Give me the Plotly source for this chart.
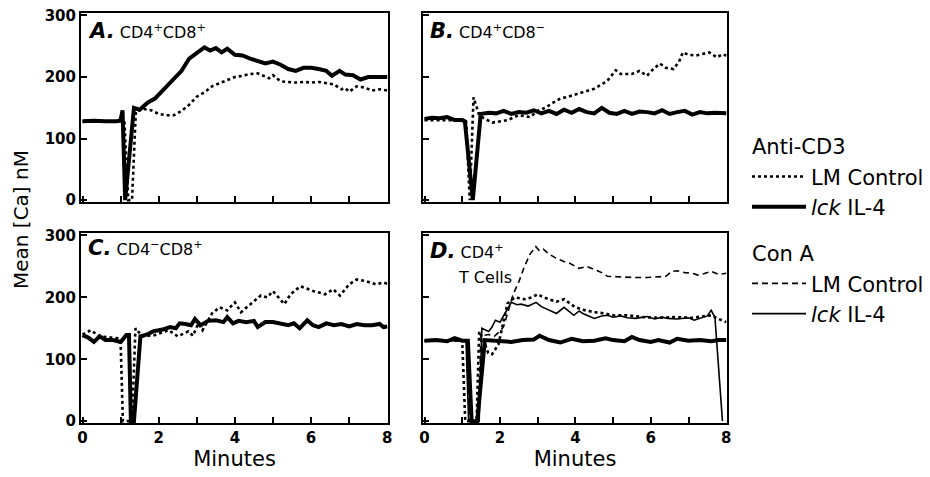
import plotly.graph_objects as go

# ---------------- data (minutes, mean [Ca] nM) ----------------
# Panel A  CD4+CD8+
a_il4_t = [0, 0.3, 0.6, 0.9, 1.0, 1.05, 1.12, 1.35, 1.5, 1.7, 1.9, 2.1, 2.4, 2.6, 2.8, 3.0, 3.2, 3.35, 3.5, 3.65,
           3.8, 4.0, 4.2, 4.4, 4.6, 4.8, 5.0, 5.2, 5.4, 5.6, 5.8, 6.0, 6.2, 6.4, 6.55, 6.75, 6.9, 7.1, 7.3, 7.5, 7.7, 8.0]
a_il4_v = [128, 129, 128, 128, 130, 146, 0, 150, 147, 158, 165, 178, 198, 210, 230, 240, 248, 243, 247, 240,
           246, 236, 235, 230, 226, 222, 225, 220, 213, 210, 215, 215, 213, 210, 202, 210, 204, 203, 196, 200, 200, 200]
a_lm_t = [0, 0.5, 1.0, 1.1, 1.2, 1.3, 1.4, 1.6, 1.8, 2.0, 2.2, 2.4, 2.6, 2.8, 3.0, 3.2, 3.4, 3.6, 3.8, 4.0, 4.2,
          4.4, 4.6, 4.8, 4.9, 5.0, 5.2, 5.4, 5.6, 5.8, 6.0, 6.2, 6.4, 6.6, 6.8, 6.9, 7.0, 7.2, 7.4, 7.6, 7.8, 8.0]
a_lm_v = [128, 128, 128, 128, 0, 0, 145, 148, 146, 140, 138, 138, 145, 155, 168, 175, 185, 190, 195, 200, 202,
          205, 206, 200, 198, 203, 193, 192, 191, 192, 191, 192, 190, 188, 180, 182, 176, 185, 183, 178, 180, 178]

# Panel B  CD4+CD8-
b_il4_t = [0, 0.2, 0.4, 0.6, 0.8, 1.0, 1.07, 1.28, 1.49, 1.7, 1.9, 2.1, 2.3, 2.5, 2.7, 2.9, 3.1, 3.3, 3.5, 3.7,
           3.9, 4.1, 4.3, 4.5, 4.7, 4.9, 5.1, 5.3, 5.5, 5.7, 5.9, 6.1, 6.3, 6.5, 6.7, 6.9, 7.1, 7.3, 7.5, 7.7, 8.0]
b_il4_v = [132, 134, 133, 135, 130, 130, 128, 0, 140, 142, 141, 145, 140, 143, 142, 146, 141, 145, 140, 147,
           142, 148, 143, 141, 150, 142, 140, 145, 140, 144, 143, 141, 146, 140, 143, 145, 139, 143, 141, 142, 141]
b_lm_t = [0, 1.1, 1.2, 1.3, 1.45, 1.6, 1.8, 2.0, 2.2, 2.5, 2.8, 3.0, 3.2, 3.4, 3.6, 3.8, 4.0, 4.2, 4.5, 4.7,
          4.85, 5.07, 5.2, 5.5, 5.7, 5.9, 6.05, 6.24, 6.4, 6.6, 6.75, 6.85, 7.0, 7.2, 7.4, 7.55, 7.75, 7.9, 8.0]
b_lm_v = [130, 130, 0, 167, 138, 132, 126, 128, 130, 138, 135, 145, 150, 158, 165, 168, 172, 175, 181, 188,
          194, 211, 205, 205, 210, 202, 212, 222, 215, 213, 225, 240, 236, 235, 238, 240, 232, 237, 235]

# Panel C  CD4-CD8+
c_il4_t = [0, 0.15, 0.3, 0.45, 0.6, 0.8, 1.0, 1.15, 1.22, 1.27, 1.35, 1.52, 1.7, 1.85, 2.1, 2.3, 2.45, 2.55, 2.7,
           2.85, 2.95, 3.1, 3.3, 3.5, 3.7, 3.8, 3.95, 4.1, 4.3, 4.5, 4.6, 4.8, 5.0, 5.2, 5.4, 5.55, 5.7, 5.9, 6.05,
           6.2, 6.4, 6.6, 6.8, 7.0, 7.2, 7.4, 7.6, 7.8, 7.9, 8.0]
c_il4_v = [139, 135, 128, 137, 131, 131, 128, 139, 139, 0, 0, 137, 140, 145, 148, 152, 150, 158, 157,
           155, 165, 155, 162, 163, 160, 168, 158, 162, 160, 162, 152, 160, 160, 158, 155, 158, 150, 163, 155,
           152, 158, 155, 157, 153, 157, 155, 155, 157, 152, 153]
c_lm_t = [0, 0.22, 0.44, 0.7, 0.92, 1.0, 1.06, 1.3, 1.39, 1.57, 1.9, 2.26, 2.5, 2.78, 2.9, 3.04, 3.15, 3.4, 3.6,
          3.8, 4.0, 4.16, 4.42, 4.68, 4.85, 5.0, 5.3, 5.46, 5.72, 6.07, 6.37, 6.58, 6.76, 7.0, 7.2, 7.45, 7.7, 7.9, 8.0]
c_lm_v = [140, 147, 137, 136, 134, 128, 0, 0, 150, 137, 139, 147, 137, 145, 138, 158, 147, 174, 184,
          179, 192, 176, 189, 203, 200, 210, 189, 205, 218, 210, 205, 213, 203, 221, 229, 226, 221, 224, 222]

# Panel D  CD4+ T cells
d_il4_t = [0, 0.3, 0.6, 0.8, 1.0, 1.15, 1.25, 1.4, 1.6, 1.8, 2.0, 2.3, 2.6, 2.9, 3.05, 3.3, 3.6, 3.9, 4.2, 4.5,
           4.8, 5.0, 5.3, 5.5, 5.7, 6.0, 6.2, 6.5, 6.7, 7.0, 7.3, 7.6, 7.8, 8.0]
d_il4_v = [130, 131, 129, 134, 130, 130, 0, 0, 131, 130, 130, 128, 131, 132, 138, 131, 127, 133, 129, 130,
           134, 131, 129, 136, 131, 128, 131, 127, 133, 130, 131, 129, 131, 131]
d_lm_t = [0, 1.0, 1.08, 1.38, 1.45, 1.6, 1.69, 1.79, 1.96, 2.1, 2.2, 2.4, 2.65, 2.85, 3.0, 3.15, 3.3, 3.5, 3.7,
          3.85, 4.0, 4.2, 4.5, 4.8, 5.0, 5.4, 5.8, 6.2, 6.6, 7.1, 7.4, 7.6, 7.8, 8.0]
d_lm_v = [130, 130, 0, 0, 145, 125, 110, 108, 124, 165, 190, 200, 197, 200, 205, 200, 197, 193, 197,
          190, 184, 180, 176, 174, 171, 171, 168, 167, 168, 167, 169, 171, 165, 160]
d_cona_lm_t = [0, 1.12, 1.2, 1.42, 1.5, 1.7, 1.85, 2.0, 2.1, 2.2, 2.35, 2.5, 2.65, 2.8, 2.95, 3.05, 3.15, 3.3, 3.5,
               3.7, 3.85, 4.0, 4.1, 4.3, 4.5, 4.7, 4.85, 5.1, 5.35, 5.6, 5.9, 6.2, 6.4, 6.55, 6.7, 6.9, 7.1, 7.25,
               7.4, 7.6, 7.8, 8.0]
d_cona_lm_v = [130, 130, 0, 0, 138, 140, 137, 145, 153, 175, 205, 225, 250, 270, 282, 275, 278, 270, 263,
               258, 255, 250, 247, 250, 245, 240, 234, 233, 232, 232, 232, 233, 234, 242, 243, 240, 239, 236,
               238, 242, 237, 239]
d_cona_il4_t = [0, 1.1, 1.17, 1.45, 1.52, 1.7, 1.79, 1.88, 2.0, 2.15, 2.3, 2.45, 2.56, 2.75, 2.96, 3.1, 3.22, 3.35,
                3.5, 3.7, 3.85, 3.96, 4.1, 4.2, 4.35, 4.5, 4.7, 4.85, 5.0, 5.2, 5.38, 5.6, 5.9, 6.1, 6.3, 6.45,
                6.7, 7.0, 7.15, 7.3, 7.5, 7.6, 7.7, 7.9]
d_cona_il4_v = [130, 130, 0, 0, 150, 145, 152, 163, 160, 176, 192, 188, 189, 186, 192, 185, 182, 178,
                174, 184, 176, 171, 178, 174, 170, 166, 170, 171, 168, 170, 167, 166, 169, 165, 168, 166,
                165, 167, 163, 166, 170, 179, 168, 0]

x_tick_vals = [0, 1, 2, 3, 4, 5, 6, 7, 8]
x_tick_text = ["0", "", "2", "", "4", "", "6", "", "8"]
y_tick_vals = [0, 100, 200, 300]
y_tick_text = ["0", "100", "200", "300"]

panel_labels = [
    ("A.", "CD4<sup>+</sup>CD8<sup>+</sup>"),
    ("B.", "CD4<sup>+</sup>CD8<sup>−</sup>"),
    ("C.", "CD4<sup>−</sup>CD8<sup>+</sup>"),
    ("D.", "CD4<sup>+</sup>"),
]

# ---------------- figure ----------------
# the page body keeps an 8px margin, so the figure is drawn 8px in from the window corner
OFF = 8
W, H = 930 - OFF, 477 - OFF
FONT = "DejaVu Sans"


def fx(px):
    return (px - OFF) / W


def fy(py):
    return 1 - (py - OFF) / H


fig = go.Figure()

dom_x = {1: [fx(81), fx(388)], 2: [fx(423), fx(727)], 3: [fx(81), fx(388)], 4: [fx(423), fx(727)]}
dom_y = {1: [fy(202), fy(13)], 2: [fy(202), fy(13)], 3: [fy(423), fy(233)], 4: [fy(423), fy(233)]}

thick = dict(color="black", width=4)
dotted = dict(color="black", width=2.6, dash="dot")
thin = dict(color="black", width=1.6)
dashed = dict(color="black", width=1.6, dash="6px,4px")


def add(t, v, line, k, name=None, group=None, title=None, show=False):
    ax = "" if k == 1 else str(k)
    fig.add_trace(go.Scatter(
        x=t, y=v, mode="lines", line=line, xaxis="x" + ax, yaxis="y" + ax,
        name=name, showlegend=show, legendgroup=group,
        legendgrouptitle_text=title, hoverinfo="skip"))


add(a_lm_t, a_lm_v, dotted, 1, "LM Control", "anti", "Anti-CD3", True)
add(a_il4_t, a_il4_v, thick, 1, "<i>lck</i> IL-4", "anti", "Anti-CD3", True)
add(b_lm_t, b_lm_v, dotted, 2)
add(b_il4_t, b_il4_v, thick, 2)
add(c_lm_t, c_lm_v, dotted, 3)
add(c_il4_t, c_il4_v, thick, 3)
add(d_cona_lm_t, d_cona_lm_v, dashed, 4, "LM Control", "cona", "Con A", True)
add(d_cona_il4_t, d_cona_il4_v, thin, 4, "<i>lck</i> IL-4", "cona", "Con A", True)
add(d_lm_t, d_lm_v, dotted, 4)
add(d_il4_t, d_il4_v, thick, 4)

layout = {}
for k in range(1, 5):
    ax = "" if k == 1 else str(k)
    bottom = k in (3, 4)
    left = k in (1, 3)
    layout["xaxis" + ax] = dict(
        domain=dom_x[k], anchor="y" + ax, range=[-0.04, 8.02], automargin=False,
        showline=True, mirror=True, linecolor="black", linewidth=2,
        ticks="inside", ticklen=6, tickwidth=1.5, tickcolor="black",
        tickvals=x_tick_vals, ticktext=x_tick_text, showticklabels=bottom,
        ticklabeloverflow="allow",
        tickfont=dict(family=FONT, size=15, color="black", weight="bold"),
        showgrid=False, zeroline=False,
        title=dict(text="Minutes" if bottom else "", standoff=3,
                   font=dict(family=FONT, size=21, color="black")))
    layout["yaxis" + ax] = dict(
        domain=dom_y[k], anchor="x" + ax, range=[-3, 304], automargin=False,
        showline=True, mirror=True, linecolor="black", linewidth=2,
        ticks="inside", ticklen=6, tickwidth=1.5, tickcolor="black",
        tickvals=y_tick_vals, ticktext=y_tick_text, showticklabels=left,
        ticklabeloverflow="allow",
        tickfont=dict(family=FONT, size=15, color="black", weight="bold"),
        showgrid=False, zeroline=False)

annotations = []
label_pos = [(86, 31), (428, 31), (86, 248), (428, 251)]
for (letter, sub), (px, py) in zip(panel_labels, label_pos):
    annotations.append(dict(
        xref="paper", yref="paper", x=fx(px), y=fy(py), xanchor="left", yanchor="middle",
        showarrow=False,
        text=f"<b><i><span style='font-size:21px'>{letter}</span></i></b> {sub}",
        font=dict(family=FONT, size=16, color="black")))
annotations.append(dict(
    xref="paper", yref="paper", x=fx(456), y=fy(277), xanchor="left", yanchor="middle",
    showarrow=False, text="T Cells", font=dict(family=FONT, size=16, color="black")))
annotations.append(dict(
    xref="paper", yref="paper", x=fx(21), y=fy(220), xanchor="center", yanchor="middle",
    showarrow=False, textangle=-90, text="Mean [Ca] nM",
    font=dict(family=FONT, size=20, color="black")))

fig.update_layout(
    width=W, height=H, margin=dict(l=0, r=0, t=0, b=0, autoexpand=False),
    paper_bgcolor="white", plot_bgcolor="white",
    annotations=annotations,
    legend=dict(x=fx(747), y=fy(126), xanchor="left", yanchor="top",
                font=dict(family=FONT, size=21, color="black"),
                grouptitlefont=dict(family=FONT, size=21, color="black"),
                itemwidth=54, tracegroupgap=16, traceorder="grouped",
                bgcolor="rgba(0,0,0,0)"),
    **layout)

fig.write_html("out.html")
